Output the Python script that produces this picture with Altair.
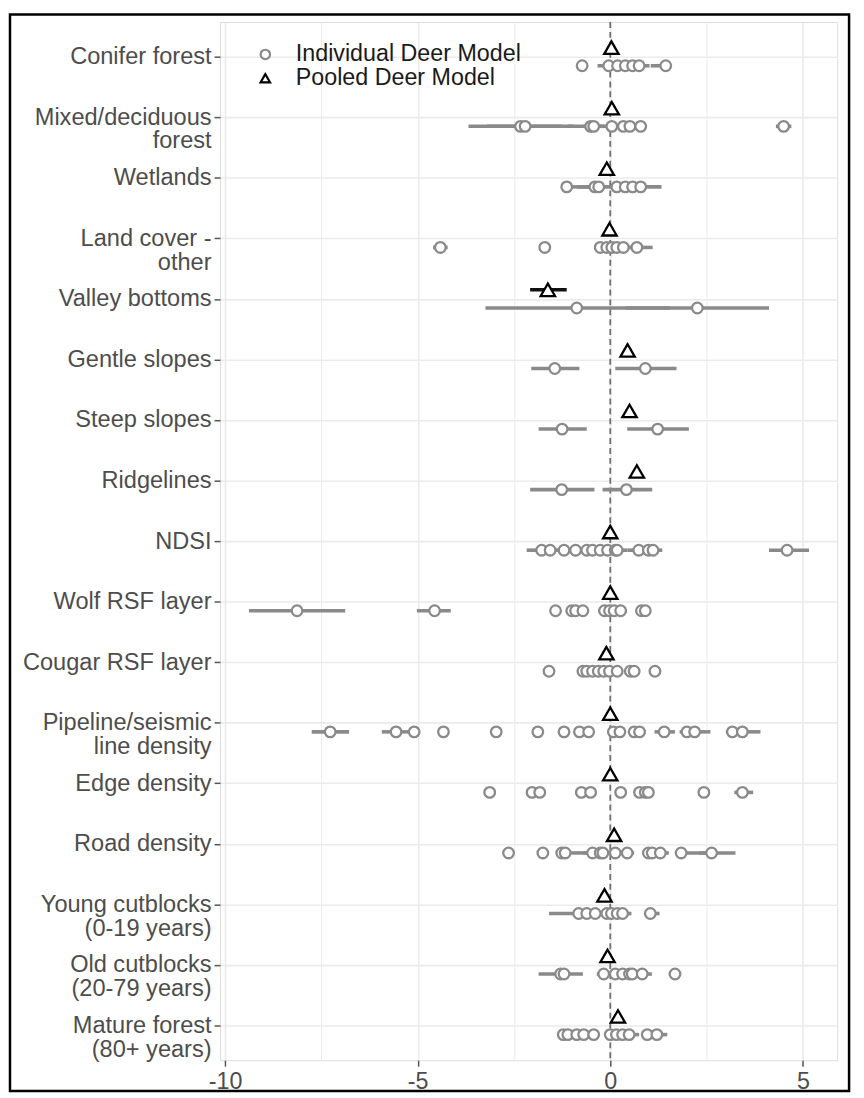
import json
import altair as alt
import pandas as pd

# ---------------- data ----------------
categories = [
    "Conifer forest", "Mixed/deciduous|forest", "Wetlands", "Land cover -|other",
    "Valley bottoms", "Gentle slopes", "Steep slopes", "Ridgelines", "NDSI",
    "Wolf RSF layer", "Cougar RSF layer", "Pipeline/seismic|line density",
    "Edge density", "Road density", "Young cutblocks|(0-19 years)",
    "Old cutblocks|(20-79 years)", "Mature forest|(80+ years)",
]

pooled_est = [0.03, 0.04, -0.09, -0.02, -1.62, 0.45, 0.50, 0.69, 0.00, 0.00,
              -0.10, 0.00, 0.00, 0.10, -0.15, -0.07, 0.20]
pooled_lo = [-0.07, -0.06, -0.19, -0.12, -2.08, 0.35, 0.40, 0.59, -0.10, -0.10,
             -0.20, -0.10, -0.10, 0.00, -0.25, -0.17, 0.10]
pooled_hi = [0.13, 0.14, 0.01, 0.08, -1.13, 0.55, 0.60, 0.79, 0.10, 0.10,
             0.00, 0.10, 0.10, 0.20, -0.05, 0.03, 0.30]

# individual deer: (estimate, lower, upper)
conifer = [(-0.73, -0.85, -0.62), (-0.04, -0.33, 0.25), (0.19, 0.02, 0.36),
           (0.39, 0.24, 0.54), (0.58, 0.42, 0.74), (0.75, 0.52, 1.02), (1.44, 1.05, 1.56)]
mixed = [(-2.33, -3.68, -0.95), (-2.21, -3.20, -1.25), (-0.51, -1.10, 0.10),
         (-0.43, -0.70, -0.15), (0.04, -0.10, 0.18), (0.34, 0.18, 0.50),
         (0.51, 0.36, 0.66), (0.79, 0.62, 0.95), (4.50, 4.30, 4.70)]
wetlands = [(-1.13, -1.25, -0.55), (-0.40, -0.85, 0.05), (-0.30, -0.45, -0.15),
            (0.17, 0.00, 0.34), (0.39, 0.22, 0.56), (0.58, 0.40, 0.76), (0.79, 0.30, 1.33)]
landcover = [(-4.41, -4.60, -4.22), (-1.70, -1.80, -1.60), (-0.26, -0.39, -0.12),
             (-0.09, -0.22, 0.04), (0.04, -0.10, 0.18), (0.17, 0.03, 0.31),
             (0.34, 0.18, 0.50), (0.69, 0.40, 1.10)]
valley = [(-0.87, -3.24, 1.55), (2.26, 0.40, 4.12)]
gentle = [(-1.44, -2.05, -0.80), (0.91, 0.13, 1.72)]
steep = [(-1.25, -1.86, -0.61), (1.23, 0.44, 2.04)]
ridge = [(-1.26, -2.08, -0.41), (0.42, -0.20, 1.09)]
ndsi = [(-1.78, -2.17, -1.40), (-1.56, -1.75, -1.37), (-1.20, -1.40, -1.00),
        (-0.90, -1.10, -0.70), (-0.61, -0.80, -0.42), (-0.46, -0.62, -0.30),
        (-0.26, -0.42, -0.10), (-0.07, -0.22, 0.08), (0.13, -0.05, 0.31),
        (0.18, 0.00, 0.45), (0.74, 0.45, 0.95), (0.99, 0.80, 1.18),
        (1.11, 0.90, 1.35), (4.59, 4.12, 5.16)]
wolf = [(-8.13, -9.38, -6.88), (-4.56, -5.02, -4.14), (-1.42, -1.55, -1.30),
        (-1.00, -1.12, -0.88), (-0.90, -1.02, -0.78), (-0.71, -0.84, -0.58),
        (-0.15, -0.31, 0.00), (-0.02, -0.18, 0.14), (0.10, -0.05, 0.25),
        (0.27, 0.10, 0.42), (0.81, 0.70, 0.92), (0.91, 0.80, 1.02)]
cougar = [(-1.59, -1.70, -1.48), (-0.71, -0.85, -0.57), (-0.61, -0.74, -0.48),
          (-0.46, -0.60, -0.32), (-0.31, -0.44, -0.18), (-0.17, -0.30, -0.04),
          (-0.02, -0.15, 0.11), (0.18, 0.05, 0.31), (0.52, 0.39, 0.65),
          (0.62, 0.49, 0.75), (1.16, 1.04, 1.28)]
pipeline = [(-7.27, -7.75, -6.78), (-5.56, -5.93, -5.20), (-5.09, -5.22, -4.96),
            (-4.33, -4.45, -4.21), (-2.96, -3.08, -2.84), (-1.88, -2.00, -1.76),
            (-1.20, -1.32, -1.08), (-0.80, -0.92, -0.68), (-0.56, -0.68, -0.44),
            (0.08, -0.04, 0.20), (0.25, 0.13, 0.37), (0.62, 0.50, 0.74),
            (0.76, 0.60, 0.92), (1.40, 1.15, 1.68), (1.99, 1.80, 2.20),
            (2.19, 1.95, 2.60), (3.17, 3.00, 3.35), (3.43, 3.20, 3.90)]
edge = [(-3.13, -3.25, -3.01), (-2.03, -2.15, -1.91), (-1.83, -1.95, -1.71),
        (-0.75, -0.90, -0.60), (-0.51, -0.64, -0.38), (0.27, 0.15, 0.39),
        (0.76, 0.64, 0.88), (0.91, 0.79, 1.03), (0.99, 0.87, 1.11),
        (2.43, 2.31, 2.55), (3.43, 3.22, 3.71)]
road = [(-2.64, -2.76, -2.52), (-1.75, -1.87, -1.63), (-1.26, -1.40, -1.12),
        (-1.17, -1.30, -0.60), (-0.46, -0.70, -0.22), (-0.26, -0.40, -0.12),
        (-0.19, -0.32, -0.06), (0.13, 0.00, 0.26), (0.44, 0.25, 0.62),
        (0.99, 0.87, 1.11), (1.09, 0.97, 1.21), (1.30, 1.18, 1.52),
        (1.84, 1.72, 2.63), (2.63, 2.30, 3.25)]
young = [(-0.82, -1.59, -0.30), (-0.61, -0.74, -0.48), (-0.39, -0.52, -0.26),
         (-0.09, -0.22, 0.04), (0.03, -0.10, 0.16), (0.18, 0.05, 0.31),
         (0.32, 0.19, 0.55), (1.04, 0.92, 1.28)]
old = [(-1.29, -1.86, -0.71), (-1.20, -1.32, -1.08), (-0.17, -0.35, 0.00),
       (0.13, 0.00, 0.26), (0.32, 0.19, 0.45), (0.50, 0.37, 0.63),
       (0.57, 0.44, 0.70), (0.83, 0.70, 1.08), (1.68, 1.56, 1.80)]
mature = [(-1.22, -1.34, -1.10), (-1.10, -1.22, -0.98), (-0.87, -0.99, -0.75),
          (-0.69, -0.81, -0.57), (-0.43, -0.55, -0.31), (0.00, -0.12, 0.12),
          (0.16, 0.04, 0.28), (0.32, 0.20, 0.44), (0.49, 0.37, 0.75),
          (0.96, 0.84, 1.08), (1.21, 1.00, 1.48)]

individual = [conifer, mixed, wetlands, landcover, valley, gentle, steep, ridge,
              ndsi, wolf, cougar, pipeline, edge, road, young, old, mature]

models = ["Individual Deer Model", "Pooled Deer Model"]

# ---------------- build table ----------------
DODGE = 0.15
rows = []
for i, pts in enumerate(individual):
    for e, lo, hi in pts:
        rows.append({"pos": i + DODGE, "est": e, "lo": lo, "hi": hi, "model": models[0]})
for i in range(len(categories)):
    rows.append({"pos": i - DODGE, "est": pooled_est[i], "lo": pooled_lo[i],
                 "hi": pooled_hi[i], "model": models[1]})
df = pd.DataFrame(rows)

FONT = "Liberation Sans"
GREY = "#8a8a8a"
TXT = "#4d4d4d"

n = len(categories)
xscale = alt.Scale(domain=[-10.13, 5.89], nice=False, zero=False)
yscale = alt.Scale(domain=[-0.573, n - 1 + 0.573], nice=False, zero=False, reverse=True)

label_expr = "split(" + json.dumps(categories) + "[round(datum.value)], '|')"

x_axis = alt.Axis(
    values=[-10, -7.5, -5, -2.5, 0, 2.5, 5],
    labelExpr="datum.value % 5 === 0 ? '' + datum.value : ''",
    tickOpacity={"condition": {"test": "datum.value % 5 === 0", "value": 1}, "value": 0},
    gridWidth={"condition": {"test": "datum.value % 5 === 0", "value": 1.6}, "value": 1.0},
    grid=True, gridColor="#ebebeb", domain=False, tickColor="#555555", tickSize=6,
    tickWidth=1.5, labelFontSize=23.5, labelColor=TXT, labelFont=FONT,
    labelPadding=4, title=None,
)
y_axis = alt.Axis(
    values=list(range(n)), labelExpr=label_expr, grid=True, gridColor="#ebebeb",
    gridWidth=1.6, domain=False, tickColor="#555555", tickSize=6, tickWidth=1.5,
    labelFontSize=23.8, labelColor=TXT, labelFont=FONT, labelLineHeight=24,
    labelPadding=3, title=None, labelAlign="right", labelBaseline="middle",
    labelLimit=400,
)

base = alt.Chart(df)

zero_line = alt.Chart(pd.DataFrame({"z": [0]})).mark_rule(
    color="#707070", strokeWidth=1.8, strokeDash=[6, 4]
).encode(x=alt.X("z:Q", scale=xscale, axis=x_axis))

ind_bars = base.transform_filter(alt.datum.model == models[0]).mark_rule(
    color=GREY, strokeWidth=3.6
).encode(
    x=alt.X("lo:Q", scale=xscale, axis=x_axis), x2="hi:Q",
    y=alt.Y("pos:Q", scale=yscale, axis=y_axis),
)
pool_bars = base.transform_filter(alt.datum.model == models[1]).mark_rule(
    color="#111111", strokeWidth=3.6
).encode(
    x=alt.X("lo:Q", scale=xscale, axis=x_axis), x2="hi:Q",
    y=alt.Y("pos:Q", scale=yscale, axis=y_axis),
)

legend = alt.Legend(
    orient="none", legendX=34, legendY=21, title=None, labelFontSize=23.5,
    labelColor="#1a1a1a", labelFont=FONT, symbolStrokeWidth=2.2, symbolSize=90,
    symbolFillColor="white", labelOffset=19, rowPadding=-1.5, padding=0,
    labelLimit=400,
)

shape_enc = alt.Shape("model:N", scale=alt.Scale(domain=models, range=["circle", "triangle-up"]),
                      legend=legend)
stroke_enc = alt.Stroke("model:N", scale=alt.Scale(domain=models, range=[GREY, "#000000"]),
                        legend=legend)

circles = base.transform_filter(alt.datum.model == models[0]).mark_point(
    filled=False, fill="white", strokeWidth=2.3, opacity=1, size=115
).encode(
    x=alt.X("est:Q", scale=xscale, axis=x_axis),
    y=alt.Y("pos:Q", scale=yscale, axis=y_axis),
    shape=shape_enc, stroke=stroke_enc,
)
triangles = base.transform_filter(alt.datum.model == models[1]).mark_point(
    filled=False, fill="white", strokeWidth=2.3, opacity=1, size=210
).encode(
    x=alt.X("est:Q", scale=xscale, axis=x_axis),
    y=alt.Y("pos:Q", scale=yscale, axis=y_axis),
    shape=shape_enc, stroke=stroke_enc,
)

frame = alt.Chart(pd.DataFrame({"f": [0]})).mark_rect(
    fillOpacity=0, stroke="black", strokeWidth=2.5
).encode(
    x=alt.value(-212), x2=alt.value(635), y=alt.value(-7.5), y2=alt.value(1079)
)

chart = alt.layer(zero_line, ind_bars, pool_bars, circles, triangles, frame).properties(
    width=623, height=1048,
    autosize=alt.AutoSizeParams(type="none"),
    padding={"left": 214, "top": 9, "right": 19, "bottom": 32},
).configure_view(
    stroke="#7a7a7a", strokeWidth=1.5
).configure(font=FONT)

chart.save("out.html", embed_options={"renderer": "svg", "actions": False})
